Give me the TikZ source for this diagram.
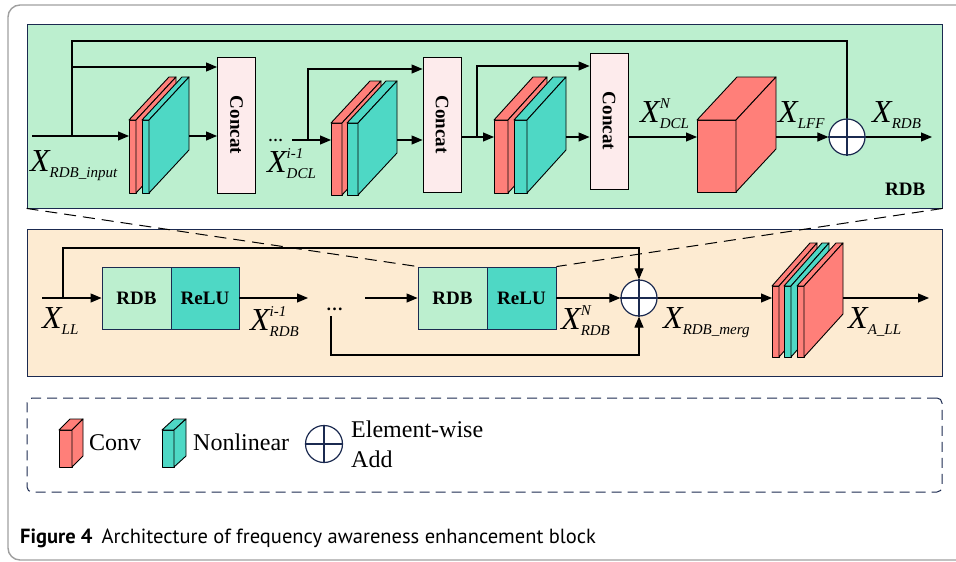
\documentclass[tikz,border=0pt]{standalone}
\usepackage{fontspec}
\setmainfont{Liberation Serif}
\newfontfamily\capfont{PT Sans}
\usetikzlibrary{arrows.meta}
\definecolor{navy}{HTML}{1B2A50}
\definecolor{mint}{HTML}{BCEFCF}
\definecolor{peach}{HTML}{FDEBD2}
\definecolor{salmon}{HTML}{FF7F79}
\definecolor{aqua}{HTML}{4ED8C5}
\definecolor{blush}{HTML}{FDEBEC}
\newcommand{\Xlab}[2]{{\fontsize{32}{32}\selectfont\itshape X}{\fontsize{15}{15}\selectfont\itshape\makebox[0pt][l]{\raisebox{-6pt}{#1}}\raisebox{14pt}{#2}}}
\newcommand{\slab}[7]{%
  \filldraw[slabline, fill=#7] (#1,#2) rectangle ++(#3,#4);
  \filldraw[slabline, fill=#7] (#1,#2) -- ++(#5,-#6) -- ++(#3,0) -- ++(-#5,#6) -- cycle;
  \filldraw[slabline, fill=#7] (#1+#3,#2) -- ++(#5,-#6) -- ++(0,#4) -- ++(-#5,#6) -- cycle;}
\begin{document}
\begin{tikzpicture}[x=1pt,y=-1pt,
 line/.style={line width=1.1pt},
 arr/.style={line width=1.1pt,-{Triangle[length=11pt,width=9pt]}},
 slabline/.style={draw=black,line width=0.9pt,line join=round},
 concat/.style={draw=black,fill=blush,line width=0.9pt,minimum width=38,minimum height=136,inner sep=0},
 blk/.style={draw=navy,line width=0.9pt,minimum height=62,inner sep=0,font=\fontsize{19}{19}\selectfont\bfseries},
 add/.style={circle,draw=navy,fill=white,line width=1.2pt,minimum size=36,inner sep=0},
 plus/.style={draw=navy,line width=1.2pt},
 lbl/.style={anchor=base west,inner sep=0},
 ctext/.style={font=\fontsize{19}{19}\selectfont\bfseries},
 dashln/.style={line width=1pt,dash pattern=on 12pt off 7pt}]
\useasboundingbox (0,0) rectangle (956,562);
% outer frame
\begin{scope}
\clip (0,0) rectangle (956,562);
\draw[draw=gray!75,line width=1.4pt,rounded corners=12pt] (8,5) rectangle (1000,560);
\end{scope}
% panels
\node[draw=navy,fill=mint,line width=0.9pt,minimum width=915,minimum height=184,inner sep=0] (rdbbox) at (484.5,116) {};
\node[draw=navy,fill=peach,line width=0.9pt,minimum width=915,minimum height=147,inner sep=0] (llbox) at (484.5,302.5) {};
\node[draw=navy,line width=1pt,dash pattern=on 10pt off 6pt,rounded corners=5pt,minimum width=915,minimum height=94,inner sep=0] (legend) at (484.5,445) {};
\node[lbl,ctext] (rdbtitle) at (885,195) {RDB};

% ---------- top (RDB) ----------
\node[add] (add1) at (847,137) {};
\draw[plus] (add1.north) -- (add1.south) (add1.west) -- (add1.east);

% group 1
\slab{129}{120}{7}{73}{40}{43}{salmon}
\slab{142}{120}{7}{73}{40}{43}{aqua}
\coordinate (s1in) at (129,136);
\coordinate (s1out) at (189,136);
\node[concat] (c1) at (236.5,125) {\rotatebox{-90}{\fontsize{19}{19}\selectfont\bfseries Concat}};
\coordinate (in1) at (32,136);
\coordinate (b1) at (72,136);
\coordinate (b1u) at (72,67);
\coordinate (t1) at (72,41);
\draw[arr] (in1) -- (s1in);
\draw[arr] (s1out) -- (c1.west |- s1out);
\draw[arr] (b1) -- (b1u) -- (c1.west |- b1u);
\draw[line] (b1u) -- (t1) -| (add1.north);

% group 2
\slab{331}{123}{11}{72}{39}{42}{salmon}
\slab{347}{123}{11}{72}{39}{42}{aqua}
\coordinate (s2in) at (331,140);
\coordinate (s2out) at (397,140);
\node[concat,minimum height=135] (c2) at (442,124.5) {\rotatebox{-90}{\fontsize{19}{19}\selectfont\bfseries Concat}};
\coordinate (in2) at (292,140);
\coordinate (b2) at (308,140);
\coordinate (b2u) at (308,69);
\draw[arr] (in2) -- (s2in);
\draw[arr] (s2out) -- (c2.west |- s2out);
\draw[arr] (b2) -- (b2u) -- (c2.west |- b2u);

% group 3
\slab{494}{120}{14}{73}{39}{43}{salmon}
\slab{514}{120}{13}{73}{39}{43}{aqua}
\coordinate (s3in) at (494,137);
\coordinate (s3out) at (566,137);
\node[concat] (c3) at (609,121) {\rotatebox{-90}{\fontsize{19}{19}\selectfont\bfseries Concat}};
\coordinate (b3) at (477,137);
\coordinate (b3u) at (477,66);
\draw[arr] (c2.east |- s3in) -- (s3in);
\draw[arr] (b3) -- (b3u) -- (c3.west |- b3u);
\draw[arr] (s3out) -- (c3.west |- s3out);

% LFF conv block
\slab{697}{120}{39}{72}{40}{43}{salmon}
\coordinate (bin) at (697,137);
\coordinate (bout) at (776,137);
\coordinate (o1) at (932,137);
\draw[arr] (c3.east |- bin) -- (bin);
\draw[arr] (bout) -- (add1.west);
\draw[arr] (add1.east) -- (o1);

% top labels
\node[lbl] (lx1) at (30,171) {\Xlab{RDB\_input}{}};
\node[lbl] (dots1) at (268,141) {\fontsize{15}{15}\selectfont\bfseries …};
\node[lbl] (lx2) at (267,172) {\Xlab{DCL}{i-1}};
\node[lbl] (lx3) at (640,122) {\Xlab{DCL}{N}};
\node[lbl] (lx4) at (778,122) {\Xlab{LFF}{}};
\node[lbl] (lx5) at (872,122) {\Xlab{RDB}{}};

% ---------- bottom ----------
\node[add] (add2) at (639,298) {};
\draw[plus] (add2.north) -- (add2.south) (add2.west) -- (add2.east);
\node[blk,fill=mint,minimum width=69] (r1) at (136.5,298) {RDB};
\node[blk,fill=aqua,minimum width=68] (u1) at (205,298) {ReLU};
\node[blk,fill=mint,minimum width=69] (r2) at (452.5,298) {RDB};
\node[blk,fill=aqua,minimum width=69] (u2) at (521.5,298) {ReLU};
\coordinate (in4) at (42,298);
\coordinate (b4) at (63,298);
\coordinate (t4) at (63,248);
\coordinate (o2) at (308,298);
\coordinate (in5) at (365,298);
\coordinate (lo1) at (331,316);
\coordinate (lo2) at (331,355);
\draw[arr] (in4) -- (r1.west);
\draw[arr] (b4) -- (t4) -| (add2.north);
\draw[arr] (u1.east) -- (o2);
\draw[arr] (in5) -- (r2.west);
\draw[arr] (lo1) -- (lo2) -| (add2.south);
\draw[arr] (u2.east) -- (add2.west);
\slab{772}{286}{7}{71}{38}{43}{salmon}
\slab{784}{286}{7}{71}{38}{43}{aqua}
\slab{797}{286}{7}{71}{39}{43}{salmon}
\coordinate (s4in) at (772,298);
\coordinate (s4out) at (843,298);
\coordinate (o3) at (929,298);
\draw[arr] (add2.east) -- (s4in);
\draw[arr] (s4out) -- (o3);
% zoom lines
\draw[dashln] (rdbbox.south west) -- (r2.north west);
\draw[dashln] (rdbbox.south east) -- (u2.north east);
% bottom labels
\node[lbl] (lx6) at (42,328) {\Xlab{LL}{}};
\node[lbl] (lx7) at (250,330) {\Xlab{RDB}{i-1}};
\node[lbl] (dots2) at (326,310) {\fontsize{17}{17}\selectfont\bfseries …};
\node[lbl] (lx8) at (561,329) {\Xlab{RDB}{N}};
\node[lbl] (lx9) at (663,328) {\Xlab{RDB\_merg}{}};
\node[lbl] (lx10) at (848,328) {\Xlab{A\_LL}{}};

% ---------- legend ----------
\slab{59}{430}{13}{37}{11}{11}{salmon}
\slab{162}{430}{12}{37}{12}{11}{aqua}
\node[add,minimum size=37] (addl) at (324,444) {};
\draw[plus] (addl.north) -- (addl.south) (addl.west) -- (addl.east);
\node[lbl,font=\fontsize{24}{24}\selectfont] (tconv) at (89,450) {Conv};
\node[lbl,font=\fontsize{24}{24}\selectfont] (tnl) at (193,450) {Nonlinear};
\node[lbl,font=\fontsize{24}{24}\selectfont] (tew) at (351,437) {Element-wise};
\node[lbl,font=\fontsize{24}{24}\selectfont] (tadd) at (351,467) {Add};

% caption
\node[lbl,font=\capfont\fontsize{20.5}{20.5}\selectfont] (cap) at (20,543) {\textbf{Figure 4}\hspace{9pt}Architecture of frequency awareness enhancement block};
\end{tikzpicture}
\end{document}
